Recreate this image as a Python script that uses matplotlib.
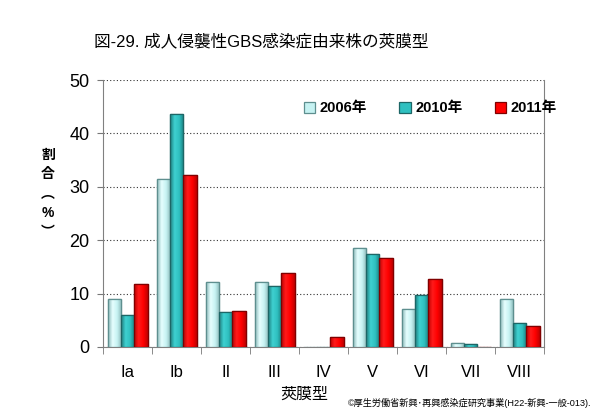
import numpy as np
import matplotlib.pyplot as plt
from matplotlib.colors import LinearSegmentedColormap

plt.rcParams['font.family'] = ['Liberation Sans', 'Noto Sans CJK JP', 'DejaVu Sans']

serotypes = ["Ia", "Ib", "II", "III", "IV", "V", "VI", "VII", "VIII"]
years = ["2006年", "2010年", "2011年"]
pct_2006 = [8.9, 31.5, 12.1, 12.1, 0.0, 18.5, 7.2, 0.7, 8.9]
pct_2010 = [6.0, 43.7, 6.6, 11.4, 0.0, 17.5, 9.7, 0.5, 4.4]
pct_2011 = [11.7, 32.3, 6.8, 13.8, 1.9, 16.6, 12.7, 0.0, 3.9]

face = ["#c6f2f2", "#2fc0c0", "#ff0000"]
shade = [["#8ab8b8", "#e6ffff", "#c6f2f2", "#8ab8b8"],
         ["#1b7f7f", "#3fd0d0", "#2fc0c0", "#1b7f7f"],
         ["#c00000", "#ff1a1a", "#ff0000", "#c00000"]]
edge = ["#5e8f8f", "#1d6666", "#800000"]


def main():
    fig = plt.figure(figsize=(6.0, 4.15), dpi=100)
    ax = fig.add_axes([0.172, 0.164, 0.735, 0.643])

    x = np.arange(len(serotypes))
    w = 0.27
    grad = np.linspace(0, 1, 64).reshape(1, -1)
    for i, vals in enumerate([pct_2006, pct_2010, pct_2011]):
        bars = ax.bar(x + (i - 1) * w, vals, width=w, color=face[i], edgecolor=edge[i],
                      linewidth=0.9, label=years[i], zorder=3)
        # cylinder-like shading on each bar
        cmap = LinearSegmentedColormap.from_list("s%d" % i, shade[i])
        for b in bars:
            if b.get_height() <= 0:
                continue
            x0, y0 = b.get_x(), b.get_y()
            im = ax.imshow(grad, cmap=cmap, aspect="auto", zorder=3.5,
                           extent=(x0, x0 + b.get_width(), y0, y0 + b.get_height()))
            im.set_clip_path(b)
            ax.bar(b.get_x() + b.get_width() / 2, b.get_height(), width=b.get_width(),
                   color="none", edgecolor=edge[i], linewidth=0.9, zorder=4)

    ax.set_xlim(-0.5, len(serotypes) - 0.5)
    ax.set_ylim(0, 50)
    ax.set_yticks(range(0, 51, 10))
    ax.yaxis.grid(True, linestyle=(0, (1, 2)), color="#333333", linewidth=0.8)
    ax.set_axisbelow(True)

    ax.set_xticks(x)
    ax.set_xticklabels(serotypes, fontsize=12)
    ax.set_xticks(np.arange(-0.5, len(serotypes)), minor=True)
    ax.tick_params(axis="x", which="major", length=0, pad=13)
    ax.tick_params(axis="x", which="minor", length=5, direction="out", color="#777777")
    ax.tick_params(axis="y", labelsize=13, length=4, color="#777777", pad=6)

    for s in ["left", "right", "bottom"]:
        ax.spines[s].set_color("#808080")
    ax.spines["top"].set_visible(False)

    ax.set_ylabel("割\n合\n︵\n%\n︶", rotation=0, fontsize=10, fontweight="bold",
                  linespacing=1.5, va="center")
    ax.yaxis.set_label_coords(-0.125, 0.575)

    ax.legend(loc="upper left", bbox_to_anchor=(0.425, 0.97), ncol=3, frameon=False,
              handlelength=0.8, handleheight=0.8, handletextpad=0.3,
              columnspacing=2.2, prop={"weight": "bold", "size": 10.5})

    fig.text(0.435, 0.9, "図-29. 成人侵襲性GBS感染症由来株の莢膜型", ha="center",
             va="center", fontsize=12)
    fig.text(0.507, 0.05, "莢膜型", ha="center", va="center", fontsize=11.5)
    fig.text(0.985, 0.028, "©厚生労働省新興･再興感染症研究事業(H22-新興-一般-013).",
             ha="right", va="center", fontsize=6.6)

    fig.savefig("out.png", dpi=100)


if __name__ == "__main__":
    main()
